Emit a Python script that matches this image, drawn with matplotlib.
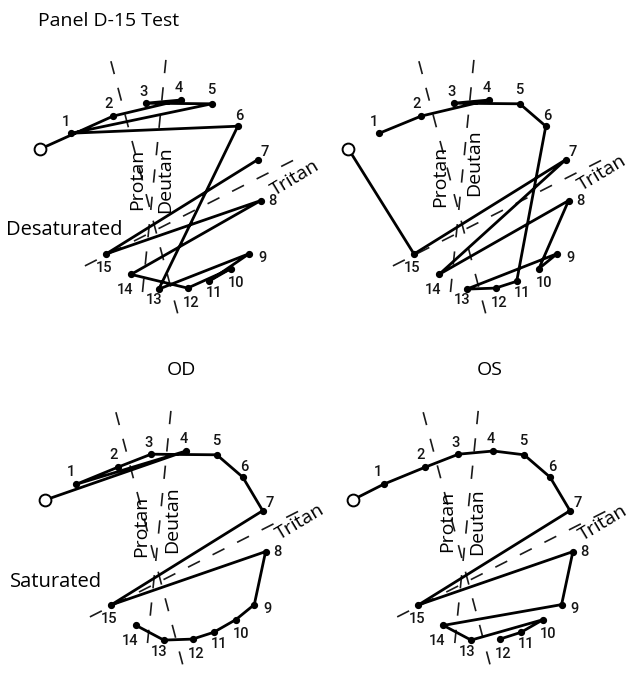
import matplotlib
matplotlib.use("Agg")
import matplotlib.pyplot as plt

W, H, DPI = 630, 677, 100
FONT = ["Open Sans", "DejaVu Sans"]
NUM_FONT = ["Roboto", "DejaVu Sans"]

# D-15 cap positions in diagram units (pilot cap at the origin, y pointing up)
cap_names = ["P"] + [str(i) for i in range(1, 16)]
cap_x = [0.0, 31.0, 72.7, 105.7, 140.7, 171.4, 197.4, 217.3, 220.2,
         208.9, 190.5, 168.3, 147.2, 118.4, 90.7, 65.6]
cap_y = [0.0, 15.7, 32.8, 45.7, 48.9, 45.1, 22.7, -10.8, -51.7,
         -104.7, -119.7, -132.4, -139.2, -140.2, -125.5, -105.1]

# cap arrangements (0 = pilot)
od_desaturated = [0, 2, 4, 3, 5, 1, 6, 13, 9, 11, 10, 12, 14, 8, 15, 7]
os_desaturated = [0, 15, 7, 14, 8, 10, 9, 13, 12, 11, 6, 5, 3, 4, 2, 1]
od_saturated = [0, 4, 1, 2, 3, 5, 6, 7, 15, 8, 9, 10, 11, 12, 13, 14]
os_saturated = [0, 1, 2, 3, 4, 5, 6, 7, 15, 8, 9, 14, 13, 10, 11, 12]

# confusion axes (end points, diagram units)
protan_x, protan_y = [70.5, 139.0], [87.7, -171.0]
deutan_x, deutan_y = [125.5, 102.0], [89.0, -144.0]
tritan_x, tritan_y = [44.5, 264.6], [-117.0, -5.5]

# number label offsets from each cap (x right, y down)
num_dx = [0, -5.6, -5.0, -3.0, -2.7, -1.0, 2.0, 7.4, 11.7, 13.3, 5.0, 5.0, 3.3, -4.3, -6.0, -1.6]
num_dy = [0, -11.7, -12.0, -11.0, -12.0, -14.0, -10.0, -8.0, 0.0, 4.3, 14.7, 12.0, 14.7, 11.4, 16.0, 14.0]

fig = plt.figure(figsize=(W / DPI, H / DPI), dpi=DPI)
fig.patch.set_facecolor("white")

# pilot position of each panel in figure pixels (from the top-left corner)
panels = [
    (od_desaturated, (40.4, 148.9), {"Protan": (97.1, -30.1), "Deutan": (124.6, -31.1), "Tritan": (254.6, -29.4)}),
    (os_desaturated, (348.4, 148.9), {"Protan": (91.6, -27.1), "Deutan": (125.6, -14.1), "Tritan": (254.1, -23.6)}),
    (od_saturated, (45.4, 499.9), {"Protan": (95.3, -26.8), "Deutan": (127.1, -20.1), "Tritan": (254.6, -21.8)}),
    (os_saturated, (352.7, 499.9), {"Protan": (94.8, -21.8), "Deutan": (124.8, -21.8), "Tritan": (250.6, -23.4)}),
]

for order, (px, py), labels in panels:
    ax = fig.add_axes([0, 0, 1, 1])
    ax.set_xlim(-px, W - px)
    ax.set_ylim(-(H - py), py)
    ax.axis("off")
    ax.patch.set_alpha(0)

    for xs, ys in [(protan_x, protan_y), (deutan_x, deutan_y), (tritan_x, tritan_y)]:
        ax.plot(xs, ys, color="#1a1a1a", lw=1.2, dashes=(8.0, 8.5),
                dash_capstyle="butt", zorder=1)

    xs = [cap_x[i] for i in order]
    ys = [cap_y[i] for i in order]
    ax.plot(xs, ys, color="black", lw=2.0, solid_joinstyle="round",
            solid_capstyle="round", zorder=3)
    ax.plot(cap_x[1:], cap_y[1:], "o", ms=4.2, color="black", zorder=4)
    ax.plot(cap_x[0], cap_y[0], "o", ms=8.5, mfc="white", mec="black",
            mew=1.4, zorder=5)

    for i in range(1, 16):
        ax.text(cap_x[i] + num_dx[i], cap_y[i] - num_dy[i], cap_names[i],
                ha="center", va="center", fontsize=10.5, fontweight="medium",
                family=NUM_FONT, color="#151515", zorder=6)

    for name, rot in [("Protan", 90), ("Deutan", 90), ("Tritan", 31)]:
        lx, ly = labels[name]
        ax.text(lx, ly, name, rotation=rot, rotation_mode="anchor",
                ha="center", va="center", fontsize=14, family=FONT,
                color="black", zorder=7)

def ftext(x, y, s, **kw):
    fig.text(x / W, 1 - y / H, s, family=FONT, color="black", **kw)

ftext(38, 26, "Panel D-15 Test", fontsize=14, ha="left", va="baseline")
ftext(6, 235, "Desaturated", fontsize=14.5, ha="left", va="baseline")
ftext(10, 587, "Saturated", fontsize=14.5, ha="left", va="baseline")
ftext(181.7, 375, "OD", fontsize=14, ha="center", va="baseline")
ftext(490, 375, "OS", fontsize=14, ha="center", va="baseline")

fig.savefig("out.png", dpi=DPI, facecolor="white")
